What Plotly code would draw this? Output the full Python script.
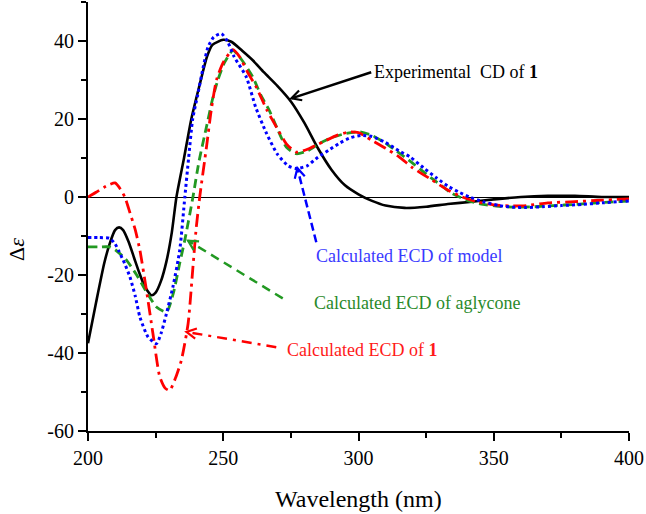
import plotly.graph_objects as go
import math

# ---------------- data ----------------
exp_x = [200, 203, 206, 208, 210, 211.5, 213, 215, 217, 219, 221, 223.5, 225, 227, 229, 231, 232.7,
         235.5, 238.2, 241, 244, 246, 250, 253, 257, 261, 265, 270, 275, 280, 285, 290, 295, 300,
         305, 310, 317, 325, 333, 342, 350, 360, 370, 380, 390, 400]
exp_y = [-37.5, -27, -17, -12, -8.5, -7.8, -8.5, -11.5, -15.5, -19.5, -23, -25.2, -24.5, -21.5, -16.5, -9, 0,
         10, 20, 28, 36, 39, 40.3, 39.8, 37.5, 35, 32, 28.5, 24.5, 19, 12.5, 7, 3, 0.7,
         -1, -2.2, -2.8, -2.5, -1.8, -1.2, -0.6, 0, 0.3, 0.3, 0, 0]

model_x = [200, 204, 208, 210, 211.5, 213.5, 215.5, 217.5, 219.2, 222.2, 225.3, 227, 229, 231.4, 233.9, 235.8,
           237.2, 238.7, 240.5, 242.5, 244.4, 246.5, 249.3, 251.5, 254, 258.5, 262, 266, 270, 274, 277, 281,
           285, 289, 293, 297, 301, 305, 310, 315, 319, 324, 329, 333.5, 337, 341, 346, 352, 357, 362, 368,
           375, 383, 390, 400]
model_y = [-10.4, -10.4, -10.6, -12, -14, -17, -20.5, -25.5, -30.8, -35.9, -37.6, -35, -29.9, -23, -13.7, 0,
           10, 20, 26, 33, 38.5, 41, 41.9, 40, 36, 30.8, 23, 16.3, 11, 8, 7.3, 8,
           10.2, 12, 13.8, 15.2, 15.8, 15.5, 14, 11.8, 10.3, 7.5, 4.8, 2.6, 1.3, 0, -1.2, -2.2, -2.6, -2.7, -2.5,
           -2.2, -1.9, -1.5, -1]

agly_x = [200, 204, 208, 210, 214, 218, 222, 225.3, 229, 231.5, 233.9, 235.8, 238.8, 241, 243.8, 246, 248,
          250.5, 253.6, 257, 260.9, 264, 267, 270, 273.3, 277, 281, 285.5, 290, 295.4, 300.3, 305, 310, 314,
          318.7, 323, 328, 334.6, 340, 346, 352, 358, 365, 372, 380, 390, 400]
agly_y = [-12.8, -12.8, -12.8, -13.5, -16, -20, -24.8, -28.2, -29.5, -24.8, -17, -11, 0, 9, 18, 25, 30,
          34.5, 37.6, 35, 30.8, 26, 22.2, 17.5, 12.8, 11.1, 11.8, 13.7, 15.2, 16.3, 16.7, 15.8, 13.8, 11.8,
          9.4, 7, 4.3, 0.9, -0.8, -1.9, -2.4, -2.6, -2.5, -2.2, -1.9, -1.4, -1]

cmpd_x = [200, 203, 206, 208, 210, 212, 213.6, 215.5, 217.5, 219.2, 221.6, 224, 226.5, 228.5, 230.2, 232.3,
          234.5, 237, 238.8, 240, 241.3, 243.8, 245.5, 247.5, 250, 253.6, 256, 259, 262.2, 266, 270, 273.5,
          277, 281, 285, 288, 292, 296.6, 300, 305, 310, 315, 320, 327.3, 333, 338.4, 344, 350, 356, 362,
          370, 380, 390, 400]
cmpd_y = [0, 1.2, 2.5, 3.2, 3.6, 2, 0, -4, -8.5, -13.7, -23.9, -35, -46, -49, -49.6, -46.5,
          -41.9, -32.5, -17.9, -8, 0, 12.8, 22, 30, 34.5, 37.8, 36, 32, 28.2, 22.5, 17.5, 13.5,
          11.5, 12.2, 13.5, 14.5, 15.8, 16.7, 16.5, 14.5, 12.5, 10.3, 7.5, 4.3, 1.8, 0, -1.3, -2, -2.3, -2.2,
          -1.5, -1.2, -0.8, -0.5]

x_ticks = [200, 250, 300, 350, 400]
y_ticks = [-60, -40, -20, 0, 20, 40]

# label callouts: (text, text_x, text_y, tail, head, color, text_color, dash)
callouts = [
    ("Experimental  CD of <b>1</b>", 304.9, 32.0, (304.7, 32.0), (275.2, 25.3), "black", "black", "solid"),
    ("Calculated ECD of model", 283.5, -15.0, (284.4, -11.6), (277.4, 7.4), "#0000ff", "#3a3aff", "8px,4px"),
    ("Calculated ECD of aglycone", 282.8, -27.3, (272.0, -26.0), (237.0, -11.2), "#229922", "#2a8a2a", "9px,6px"),
    ("Calculated ECD of <b>1</b>", 272.9, -39.3, (269.6, -38.5), (236.4, -34.6), "#ff0000", "#ff1a1a", "10px,6px,3px,6px"),
]

# ---------------- figure ----------------
W, H = 646, 514
ML, MR, MT, MB = 88, 17, 2, 83
XR = [200, 400]
YR = [-60, 50]
pxx = (W - ML - MR) / (XR[1] - XR[0])
pxy = (H - MT - MB) / (YR[1] - YR[0])

fig = go.Figure()
fig.add_trace(go.Scatter(x=exp_x, y=exp_y, mode="lines", name="Experimental",
                         line=dict(color="black", width=2.6, shape="spline", smoothing=0.6)))
fig.add_trace(go.Scatter(x=agly_x, y=agly_y, mode="lines", name="aglycone",
                         line=dict(color="#229922", width=2.8, dash="9px,5px", shape="spline", smoothing=0.6)))
fig.add_trace(go.Scatter(x=cmpd_x, y=cmpd_y, mode="lines", name="compound 1",
                         line=dict(color="#ff0000", width=2.8, dash="13px,5px,3px,5px", shape="spline", smoothing=0.6)))
fig.add_trace(go.Scatter(x=model_x, y=model_y, mode="lines", name="model",
                         line=dict(color="#0000ff", width=3, dash="dot", shape="spline", smoothing=0.6)))

shapes = []
annotations = []
for text, tx, ty, tail, head, col, tcol, dash in callouts:
    shapes.append(dict(type="line", xref="x", yref="y", x0=tail[0], y0=tail[1], x1=head[0], y1=head[1],
                       line=dict(color=col, width=2.5, dash=dash)))
    # open V arrowhead, computed in pixel space
    dxp = (tail[0] - head[0]) * pxx
    dyp = (tail[1] - head[1]) * pxy
    ang = math.atan2(dyp, dxp)
    L = 11
    pts = []
    for s in (-1, 1):
        a = ang + s * math.radians(28)
        pts.append((head[0] + L * math.cos(a) / pxx, head[1] + L * math.sin(a) / pxy))
    path = "M {} {} L {} {} L {} {}".format(pts[0][0], pts[0][1], head[0], head[1], pts[1][0], pts[1][1])
    shapes.append(dict(type="path", xref="x", yref="y", path=path, line=dict(color=col, width=2.2)))
    annotations.append(dict(x=tx, y=ty, xref="x", yref="y", text=text, showarrow=False,
                            xanchor="left", yanchor="middle",
                            font=dict(family="Liberation Serif", size=18, color=tcol)))

PW, PH = W - ML - MR, H - MT - MB
annotations.append(dict(x=(17 - ML) / PW, y=(H - MB - 250) / PH, xref="paper", yref="paper",
                        text="Δ<i>ε</i>", textangle=-90, showarrow=False, xanchor="center", yanchor="middle",
                        font=dict(family="Liberation Serif", size=22, color="black")))
annotations.append(dict(x=0.5, y=(H - MB - 499) / PH, xref="paper", yref="paper",
                        text="Wavelength (nm)", showarrow=False, xanchor="center", yanchor="middle",
                        font=dict(family="Liberation Serif", size=24, color="black")))

fig.update_layout(
    width=W, height=H,
    margin=dict(l=ML, r=MR, t=MT, b=MB, autoexpand=False),
    paper_bgcolor="white", plot_bgcolor="white",
    showlegend=False,
    shapes=shapes, annotations=annotations,
    font=dict(family="Liberation Serif", size=19, color="black"),
)
fig.update_xaxes(range=XR, tickvals=x_ticks, ticktext=[str(v) for v in x_ticks],
                 showline=True, linecolor="black", linewidth=2, showgrid=False, zeroline=False,
                 ticks="outside", ticklen=8, tickwidth=2, tickcolor="black",
                 minor=dict(dtick=25, tick0=200, ticks="outside", ticklen=5, tickwidth=2, tickcolor="black"),
                 tickfont=dict(family="Liberation Serif", size=20))
fig.update_yaxes(range=YR, tickvals=y_ticks, ticktext=[str(v) for v in y_ticks],
                 showline=True, linecolor="black", linewidth=2, showgrid=False,
                 zeroline=True, zerolinecolor="black", zerolinewidth=1.3,
                 ticks="outside", ticklen=8, tickwidth=2, tickcolor="black",
                 minor=dict(dtick=10, tick0=0, ticks="outside", ticklen=5, tickwidth=2, tickcolor="black"),
                 tickfont=dict(family="Liberation Serif", size=20))

# remove the browser's default 8px body margin so the figure sits at the window's corner
fig.write_html("out.html", config={"displayModeBar": False},
               post_script="document.body.style.margin='0px';document.body.style.overflow='hidden';")
